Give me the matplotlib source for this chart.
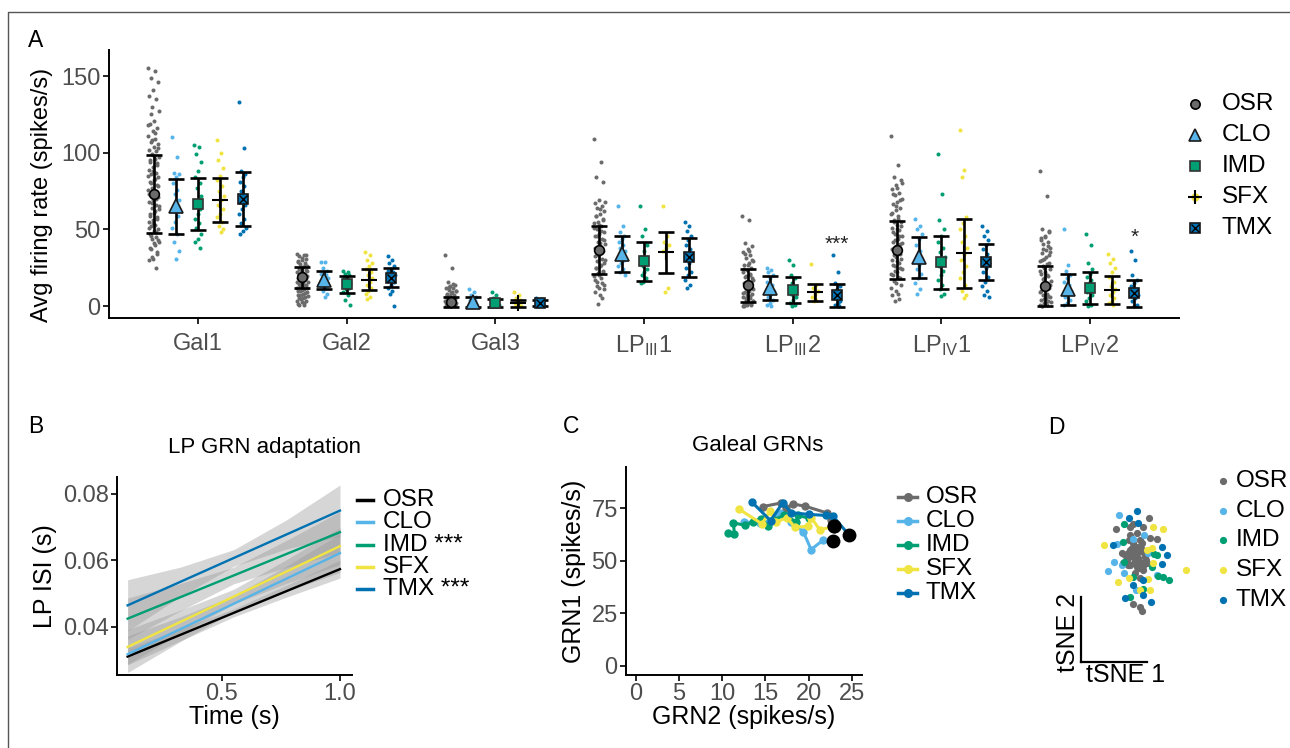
import numpy as np
import matplotlib
matplotlib.use("Agg")
import matplotlib.pyplot as plt

plt.rcParams['font.family'] = ['Liberation Sans', 'DejaVu Sans']
plt.rcParams['mathtext.fontset'] = 'custom'
plt.rcParams['mathtext.rm'] = 'Liberation Sans'
plt.rcParams['mathtext.it'] = 'Liberation Sans:italic'
plt.rcParams['mathtext.bf'] = 'Liberation Sans:bold'
plt.rcParams['axes.linewidth'] = 1.4

# ======================= DATA =======================
groups = ['OSR', 'CLO', 'IMD', 'SFX', 'TMX']
colors = ['#6b6b6b', '#56B4E9', '#009E73', '#F0E442', '#0072B2']

# ---- Panel A: average firing rate per neuron class ----
categories = ['Gal1', 'Gal2', 'Gal3', r'LP$_{\mathrm{III}}$1', r'LP$_{\mathrm{III}}$2',
              r'LP$_{\mathrm{IV}}$1', r'LP$_{\mathrm{IV}}$2']

mean_OSR = [73.0, 18.8, 2.6, 36.6, 13.6, 36.8, 13.3]
sd_OSR = [25.5, 6.8, 3.3, 15.7, 10.8, 18.9, 13.0]
mean_CLO = [65.1, 17.2, 2.6, 34.0, 11.9, 31.9, 11.0]
sd_CLO = [17.9, 5.9, 3.1, 11.9, 8.0, 13.4, 10.1]
mean_IMD = [66.7, 14.3, 1.9, 29.1, 10.7, 28.6, 12.0]
sd_IMD = [17.0, 5.6, 2.4, 12.6, 8.4, 17.3, 10.4]
mean_SFX = [69.3, 17.3, 1.8, 35.2, 8.9, 34.5, 10.5]
sd_SFX = [14.4, 6.7, 2.2, 13.4, 5.6, 22.5, 9.0]
mean_TMX = [70.0, 18.6, 1.9, 31.9, 7.1, 28.9, 8.4]
sd_TMX = [17.6, 6.2, 2.0, 12.8, 7.4, 11.7, 8.8]

pts_OSR = [
    [155, 153, 149, 146, 141, 137, 135, 130, 127, 121, 119, 116, 114, 111, 109, 107, 106, 104,
     102, 101, 99, 97, 96, 94, 92, 91, 89, 87, 86, 84, 82, 81, 79, 77, 76, 74, 72, 71, 69, 68,
     66, 64, 63, 61, 60, 58, 56, 55, 53, 52, 50, 49, 47, 45, 44, 42, 40, 37, 34, 31, 30, 25,
     108, 103, 98, 95, 93, 88, 85, 83, 80, 78, 75, 73, 70, 67, 65, 62, 59, 57, 54, 51, 48, 46,
     43, 41, 38, 35, 32, 118, 113, 125],
    [34, 33, 32.5, 31, 30, 29.5, 28, 27.5, 26, 25.5, 24, 23.5, 22.5, 22, 21, 20.5, 19.5, 19,
     18, 17.5, 16.5, 16, 15, 14.5, 13.5, 12.5, 12, 11, 10, 9, 8, 7, 6, 4.5, 3.5, 2, 1,
     33.5, 31.5, 28.5, 26.5, 24.5, 23, 21.5, 20, 18.5, 17, 15.5, 14, 13, 11.5, 10.5, 9.5, 8.5,
     7.5, 6.5, 5.5, 5, 3, 2.5, 1.5, 0.5],
    [33, 25, 15.5, 14, 13, 12, 11.5, 10.5, 9.5, 9, 8, 7.5, 6.5, 6, 5.5, 5, 4.5, 4, 3.5, 3, 2.5,
     2, 1.5, 1, 0.5, 0.3, 0, 14.5, 12.5, 10, 8.5, 7, 5.2, 4.2, 3.2, 2.2, 1.2, 0.8, 0.1, 1.8,
     2.8, 3.8],
    [109, 94, 84, 81, 69, 67, 65.5, 64, 62, 60, 58.5, 57, 55, 54, 52, 50, 48.5, 47, 45.5, 44,
     42, 40.5, 39, 37.5, 36, 34, 32.5, 31, 29.5, 28, 26, 24.5, 23, 21.5, 19.5, 18, 16, 14, 12,
     9, 5, 1.5, 68, 63, 59, 56, 53, 51, 49, 46, 43, 41, 38, 35, 33, 30, 27, 25, 22, 20, 17, 15,
     13, 11, 7],
    [59, 56, 41, 39, 37, 35.5, 33, 31.5, 29.5, 28, 26.5, 25, 23.5, 22, 20.5, 19, 18, 16.5, 15,
     14, 12.5, 11, 10, 9, 8, 7, 6, 5, 4, 3, 2.5, 1.5, 1, 0.5, 0, 36, 34, 30, 27, 24, 21, 19.5,
     17, 15.5, 13, 11.5, 9.5, 8.5, 6.5, 5.5, 3.5, 2, 0.3, 1.2],
    [111, 92, 84, 82, 79, 76.5, 74, 72.5, 70, 68, 66.5, 64, 62.5, 60, 58.5, 56, 54.5, 53, 51,
     49.5, 47, 45.5, 44, 42, 40.5, 39, 37, 35.5, 33, 31, 29.5, 27, 25, 23, 21, 19, 16.5, 13.5,
     10, 7, 4.5, 3, 80, 77, 73, 69, 65, 61, 57, 55, 52, 50, 48, 46, 43, 41, 38, 36, 34, 32, 30,
     28, 26, 24, 22, 20, 18, 15, 12, 8],
    [88, 72, 50, 48.5, 46, 44.5, 42, 40.5, 38, 36.5, 34.5, 33, 31, 29.5, 27.5, 26, 24, 22.5, 21,
     19.5, 18, 16.5, 15, 13.5, 12, 10.5, 9, 8, 7, 6, 5, 4, 3, 2, 1, 0.5, 0, 49, 45, 43, 39, 37,
     35, 32, 30, 28, 25, 23, 20, 17.5, 14, 11, 9.5, 6.5, 4.5, 2.5, 1.5, 0.2],
]
pts_CLO = [
    [110, 97, 87, 86, 84, 80, 76, 73, 69, 65, 62, 59, 55, 51, 47, 42, 36, 31],
    [29, 28.5, 25, 23, 22, 21, 20, 19, 18, 17, 16, 15, 14, 13, 12, 10, 8, 6],
    [11, 9, 7, 6, 5, 4, 3, 2, 1.5, 1, 0.5],
    [65, 52, 48, 46, 44, 42, 40, 38, 36, 34, 32, 30, 28, 26, 24, 22, 20],
    [25, 23.5, 22, 20, 18, 16, 14, 12, 10, 8, 6, 4, 2, 1, 0],
    [57, 52, 50, 47, 44, 40, 36, 33, 30, 27, 24, 21, 18, 15, 11, 8],
    [50, 27, 23, 20, 18, 16, 14, 12, 10, 8, 6, 4, 2, 1],
]
pts_IMD = [
    [105, 104, 99, 94, 88, 84, 80, 77, 72, 69, 66, 63, 60, 57, 54, 51, 47, 44, 42, 38],
    [23, 22, 21, 20, 19, 18, 17, 16, 15, 14, 13, 12, 11, 9, 7, 4, 0.5],
    [9, 7, 5, 4, 3, 2, 1.5, 1, 0.5, 0],
    [65, 50, 46, 40, 36, 32, 29, 26, 24, 22, 20, 18, 16, 15],
    [30, 26.5, 20, 18, 15, 12, 10, 8, 6, 4, 2, 1, 0],
    [99, 73, 56, 50, 46, 42, 38, 35, 32, 29, 26, 23, 20, 17, 14, 11, 8, 6.5],
    [47, 40, 28, 24, 21, 19, 17, 15, 13, 11, 9, 7, 5, 3, 1, 0],
]
pts_SFX = [
    [108, 100, 95, 90, 85, 82, 78, 75, 72, 69, 66, 63, 60, 58, 55, 52, 50, 48.5],
    [35, 33, 30, 28, 26, 24, 22, 20, 18, 16, 14, 12, 10, 8, 6, 4.5],
    [9, 7, 5, 4, 3, 2, 1, 0.5, 0],
    [65, 46, 42, 40, 38, 36, 12, 9],
    [27.5, 14, 12, 10, 8, 6, 4, 3],
    [115, 89, 84, 58, 54, 50, 46, 42, 38, 34, 30, 26, 22, 18, 14, 10, 7, 5.5],
    [34, 31, 28, 25, 22, 19, 16, 13, 11, 9, 7, 5, 3, 2, 1],
]
pts_TMX = [
    [133, 103, 88, 86, 84, 81, 78, 75, 72, 70, 68, 66, 63, 60, 57, 54, 51, 49, 47],
    [32.5, 30, 28, 26, 24, 23, 22, 21, 20, 19, 18, 16, 14, 12, 10, 8, 0],
    [5, 4.5, 4, 3.5, 3, 2.5, 2, 1.5, 1, 0.5, 0],
    [55, 52, 49, 46, 43, 40, 37, 34, 31, 28, 25, 22, 20, 17, 14, 11.5],
    [33, 22.5, 15, 13, 11, 9, 7, 5, 3, 2, 1, 0],
    [52, 49, 46, 43, 40, 37, 34, 31, 28, 25, 22, 19, 16, 13, 10, 7, 6],
    [36, 30, 20, 17, 15, 13, 11, 9, 7, 5, 3, 1, 0],
]
sig_A_cat = [4, 6]                  # category index of TMX significance labels
sig_A_text = ['***', '*']
sig_A_level = [40, 45]

# ---- Panel B: LP GRN adaptation (linear fits) ----
b_time = [0.1, 1.0]
isi_start = [0.0311, 0.0318, 0.0425, 0.0340, 0.0465]
isi_end = [0.0574, 0.0622, 0.0685, 0.0643, 0.0750]
ci_time = [0.1, 0.325, 0.55, 0.775, 1.0]
ci_OSR = [0.0025, 0.0018, 0.0012, 0.0018, 0.0027]
ci_CLO = [0.0055, 0.0037, 0.0024, 0.0038, 0.0058]
ci_IMD = [0.0062, 0.0041, 0.0025, 0.0041, 0.0062]
ci_SFX = [0.0052, 0.0035, 0.0022, 0.0036, 0.0055]
ci_TMX = [0.0077, 0.0044, 0.0025, 0.0044, 0.0077]
b_labels = ['OSR', 'CLO', 'IMD ***', 'SFX', 'TMX ***']
b_colors = ['#000000', '#56B4E9', '#009E73', '#F0E442', '#0072B2']

# ---- Panel C: Galeal GRN trajectories (GRN2, GRN1) ----
c_OSR_x = [23.0, 22.6, 22.2, 19.6, 18.2, 17.4, 16.8, 14.7]
c_OSR_y = [66.3, 69.3, 72.6, 75.9, 76.9, 75.0, 77.4, 75.7]
c_CLO_x = [22.8, 21.7, 20.3, 19.4, 18.0, 16.7, 15.5, 14.4, 12.5]
c_CLO_y = [59.2, 59.8, 55.3, 63.7, 68.5, 72.5, 69.0, 67.7, 68.5]
c_IMD_x = [20.1, 18.8, 18.6, 17.2, 16.0, 15.3, 14.5, 13.6, 12.6, 11.3, 11.4, 10.7]
c_IMD_y = [70.1, 71.5, 68.5, 71.5, 69.5, 66.7, 70.0, 68.5, 66.8, 68.0, 62.5, 63.0]
c_SFX_x = [23.0, 21.3, 20.3, 19.9, 18.4, 17.5, 16.2, 15.5, 14.6, 11.9]
c_SFX_y = [66.3, 64.7, 70.5, 66.3, 65.9, 70.5, 68.2, 73.4, 67.5, 74.6]
c_TMX_x = [24.7, 22.8, 22.0, 20.0, 18.0, 17.0, 15.6, 13.4]
c_TMX_y = [62.2, 71.3, 71.5, 72.0, 72.8, 77.5, 69.0, 78.0]
c_start_marked = ['OSR', 'CLO', 'SFX', 'TMX']

# ---- Panel D: tSNE embedding ----
d_OSR_1 = [1.85, -3.1, -1.0, 1.0, -0.5, 0.5, 2.0, 3.0, -1.1, -2.2, -1.0, 0.0, 1.0, -0.5, -1.5,
           0.5, 1.5, -1.0, 0.0, 1.0, -0.6, 0.5, 0.75, 0.5, -1.5, -0.25, 0.25, -0.75, 1.25, -2.0,
           -0.5, 0.75, -1.25, 0.25, -0.4, 0.9, -1.0, 0.1, -1.7, 0.6, -0.2, 1.4, -1.3, 0.3]
d_OSR_2 = [7.35, 5.6, 6.0, 5.9, 6.4, 4.0, 4.25, 4.15, 4.0, 2.0, 2.5, 3.0, 2.25, 1.5, 1.0,
           0.75, 0.5, 0.25, 0.0, -0.5, -5.6, -6.0, -6.6, -1.75, 1.5, 2.0, 1.25, 2.75, 1.5, 0.5,
           3.5, 3.5, 2.0, 2.25, 0.6, 0.15, 4.75, 5.1, 1.8, 2.8, -0.9, 1.0, 0.2, -0.2]
d_CLO_1 = [-2.65, 1.15, -2.9, -3.4, -4.25, -1.9, -2.25, -0.1, 3.0, 1.75, -0.5]
d_CLO_2 = [7.8, 4.75, 3.4, 0.7, -0.6, -1.0, 0.25, -3.5, -1.25, 2.0, 4.1]
d_IMD_1 = [-1.9, -2.0, -1.85, 2.65, 2.25, 3.15, 3.9, 4.85, -1.0, -0.6, 1.0, 3.0]
d_IMD_2 = [6.4, 3.75, 0.75, 1.85, 0.0, -1.4, -1.6, -2.0, -4.5, -1.6, -3.3, 1.75]
d_SFX_1 = [2.5, 3.9, -4.9, 1.5, 2.25, 2.5, 7.35, -2.75, -1.1, 1.75, 0.5, 2.0]
d_SFX_2 = [6.0, 5.6, 3.2, 2.5, 2.75, 0.5, -0.5, -2.3, -1.7, -1.9, -3.5, -3.5]
d_TMX_1 = [0.0, -1.1, 0.25, -3.6, 3.75, 4.6, 3.75, -1.75, 0.9, 2.15, -0.5, 1.0]
d_TMX_2 = [8.4, 7.3, 6.5, 3.2, 3.0, 1.75, 0.4, -4.75, -2.0, -5.3, -2.75, -4.25]

# ======================= FIGURE =======================
W, H = 1290, 748
fig = plt.figure(figsize=(W / 100, H / 100), dpi=100)


def px_axes(l, t, r, b):
    return fig.add_axes([l / W, 1 - b / H, (r - l) / W, (b - t) / H])


TICK_GREY = '#4D4D4D'
FS_TICK = 17
FS_LAB = 18
FS_LEG = 17.5
FS_TITLE = 16


def style_axes(ax):
    for s in ['top', 'right']:
        ax.spines[s].set_visible(False)
    ax.tick_params(axis='both', length=4, width=1.2, color='black', labelcolor=TICK_GREY,
                   labelsize=FS_TICK, pad=2)


# ---------------- Panel A ----------------
axA = px_axes(109, 50, 1179, 318)
style_axes(axA)
means = [mean_OSR, mean_CLO, mean_IMD, mean_SFX, mean_TMX]
sds = [sd_OSR, sd_CLO, sd_IMD, sd_SFX, sd_TMX]
pts = [pts_OSR, pts_CLO, pts_IMD, pts_SFX, pts_TMX]
dodge = np.linspace(-0.3, 0.3, len(groups))
cat_x = np.arange(1, len(categories) + 1)
jit_width = [0.075, 0.05, 0.05, 0.05, 0.05]

for gi in range(len(groups)):
    for ci, vals in enumerate(pts[gi]):
        n = len(vals)
        jit = (((np.arange(n) * 0.618034) % 1.0) - 0.5) * jit_width[gi]
        axA.plot(cat_x[ci] + dodge[gi] + jit, vals, 'o', ms=2.9, mew=0,
                 color=colors[gi], zorder=2)

for gi in range(len(groups)):
    xs = cat_x + dodge[gi]
    axA.errorbar(xs, means[gi], yerr=sds[gi], fmt='none', ecolor='black',
                 elinewidth=1.9, capsize=5.6, capthick=1.9, zorder=3)


def draw_mean_marker(ax, gi, x, y, scale=1.0):
    if gi == 0:
        ax.plot(x, y, 'o', ms=7 * scale, mfc=colors[0], mec='black', mew=1.2, zorder=5)
    elif gi == 1:
        ax.plot(x, y, '^', ms=9.5 * scale, mfc=colors[1], mec='#1a1a1a', mew=1.2, zorder=5)
    elif gi == 2:
        ax.plot(x, y, 's', ms=7 * scale, mfc=colors[2], mec='#333333', mew=1.2, zorder=5)
    elif gi == 3:
        ax.plot(x, y, '+', ms=11 * scale, mec='black', mew=1.5, zorder=5)
    else:
        ax.plot(x, y, 's', ms=7 * scale, mfc=colors[4], mec='#1a1a1a', mew=1.2, zorder=5)
        ax.plot(x, y, 'x', ms=5.5 * scale, mec='black', mew=1.0, zorder=6)


for gi in range(len(groups)):
    draw_mean_marker(axA, gi, cat_x + dodge[gi], means[gi])

for ci, lab, lev in zip(sig_A_cat, sig_A_text, sig_A_level):
    axA.text(cat_x[ci] + dodge[4], lev, lab, ha='center', va='center', fontsize=15,
             color='#222222')

axA.set_xlim(0.4, 7.6)
axA.set_ylim(-7.8, 167)
axA.set_yticks([0, 50, 100, 150])
axA.set_xticks(cat_x)
axA.set_xticklabels(categories)
axA.tick_params(axis='x', pad=7)
axA.set_ylabel('Avg firing rate (spikes/s)', fontsize=17)
axA.yaxis.set_label_coords(-0.052, 0.46)

# ---------------- Panel B ----------------
axB = px_axes(117, 477, 352, 675)
style_axes(axB)
cis = [ci_OSR, ci_CLO, ci_IMD, ci_SFX, ci_TMX]
for gi in range(len(groups)):
    fit = np.interp(ci_time, b_time, [isi_start[gi], isi_end[gi]])
    hw = np.array(cis[gi])
    axB.fill_between(ci_time, fit - hw, fit + hw, color='#999999', alpha=0.4, lw=0, zorder=1)
for gi in range(len(groups)):
    axB.plot(b_time, [isi_start[gi], isi_end[gi]], color=b_colors[gi], lw=1.7, zorder=3)
axB.set_xlim(0.055, 1.051)
axB.set_ylim(0.02556, 0.0851)
axB.set_xticks([0.5, 1.0])
axB.set_xticklabels(['0.5', '1.0'])
axB.set_yticks([0.04, 0.06, 0.08])
axB.set_yticklabels(['0.04', '0.06', '0.08'])
axB.set_xlabel('Time (s)', fontsize=FS_LAB, labelpad=0)
axB.set_ylabel('LP ISI (s)', fontsize=FS_LAB, labelpad=4)

# ---------------- Panel C ----------------
axC = px_axes(626, 467, 862, 675)
style_axes(axC)
cx = [c_OSR_x, c_CLO_x, c_IMD_x, c_SFX_x, c_TMX_x]
cy = [c_OSR_y, c_CLO_y, c_IMD_y, c_SFX_y, c_TMX_y]
for gi in range(len(groups)):
    axC.plot(cx[gi], cy[gi], '-o', color=colors[gi], lw=2.2, ms=5, zorder=3 + gi * 0.1)
for gi, g in enumerate(groups):
    if g in c_start_marked:
        axC.plot(cx[gi][0], cy[gi][0], 'o', color='black', ms=9, zorder=5)
axC.set_xlim(-1.16, 26.2)
axC.set_ylim(-4.3, 94.5)
axC.set_xticks([0, 5, 10, 15, 20, 25])
axC.set_yticks([0, 25, 50, 75])
axC.set_xlabel('GRN2 (spikes/s)', fontsize=FS_LAB, labelpad=0)
axC.set_ylabel('GRN1 (spikes/s)', fontsize=FS_LAB, labelpad=4)

# ---------------- Panel D ----------------
axD = px_axes(1040, 480, 1200, 640)
axD.axis('off')
d1 = [d_OSR_1, d_CLO_1, d_IMD_1, d_SFX_1, d_TMX_1]
d2 = [d_OSR_2, d_CLO_2, d_IMD_2, d_SFX_2, d_TMX_2]
for gi in range(len(groups)):
    axD.plot(d1[gi], d2[gi], 'o', color=colors[gi], ms=5.2, mew=0, zorder=2 + gi * 0.1)
axD.set_xlim(-14.5, 9.5)
axD.set_ylim(-11, 13)

axT = px_axes(1081, 597, 1147, 662)
axT.set_xticks([])
axT.set_yticks([])
for s in ['top', 'right']:
    axT.spines[s].set_visible(False)
axT.spines['left'].set_linewidth(1.6)
axT.spines['bottom'].set_linewidth(1.6)
axT.patch.set_alpha(0)
axT.text(0.08, -0.01, 'tSNE 1', transform=axT.transAxes, ha='left', va='top',
         fontsize=FS_LAB)
axT.text(-0.01, 0.45, 'tSNE 2', transform=axT.transAxes, ha='right', va='center',
         rotation=90, fontsize=FS_LAB)

# ---------------- overlay: legends, letters, border ----------------
ov = fig.add_axes([0, 0, 1, 1], zorder=10)
ov.set_xlim(0, W)
ov.set_ylim(H, 0)
ov.axis('off')

ov.plot([8, 8, W], [H, 12, 12], color='#555555', lw=1.0)

for lab, (lx, ly) in zip(['A', 'B', 'C', 'D'], [(36, 40), (36, 426), (571, 426), (1056, 427)]):
    ov.text(lx, ly, lab, fontsize=16.5, ha='center', va='center')

# legend A
for gi, g in enumerate(groups):
    y = 104 + 31 * gi
    if gi == 3:
        ov.plot(1195, y, 'o', ms=6, color=colors[3], mew=0)
    draw_mean_marker(ov, gi, 1195, y, scale=0.95)
    ov.text(1222, y, g, fontsize=FS_LEG, va='center', ha='left')

# legend B
for gi, lab in enumerate(b_labels):
    y = 500 + 22.3 * gi
    ov.plot([357, 373], [y, y], color=b_colors[gi], lw=2.5)
    ov.text(383, y, lab, fontsize=FS_LEG, va='center', ha='left')

# legend C
for gi, g in enumerate(groups):
    y = 497 + 24 * gi
    ov.plot([898, 917], [y, y], color=colors[gi], lw=2.5)
    ov.plot(907.5, y, 'o', color=colors[gi], ms=5.5)
    ov.text(926, y, g, fontsize=FS_LEG, va='center', ha='left')

# legend D
for gi, g in enumerate(groups):
    y = 481 + 29.7 * gi
    ov.plot(1223, y, 'o', color=colors[gi], ms=5.2, mew=0)
    ov.text(1236, y, g, fontsize=FS_LEG, va='center', ha='left')

# titles
ov.text(264, 447, 'LP GRN adaptation', fontsize=FS_TITLE, ha='center', va='center')
ov.text(758, 445, 'Galeal GRNs', fontsize=FS_TITLE, ha='center', va='center')

fig.savefig('out.png', dpi=100)
